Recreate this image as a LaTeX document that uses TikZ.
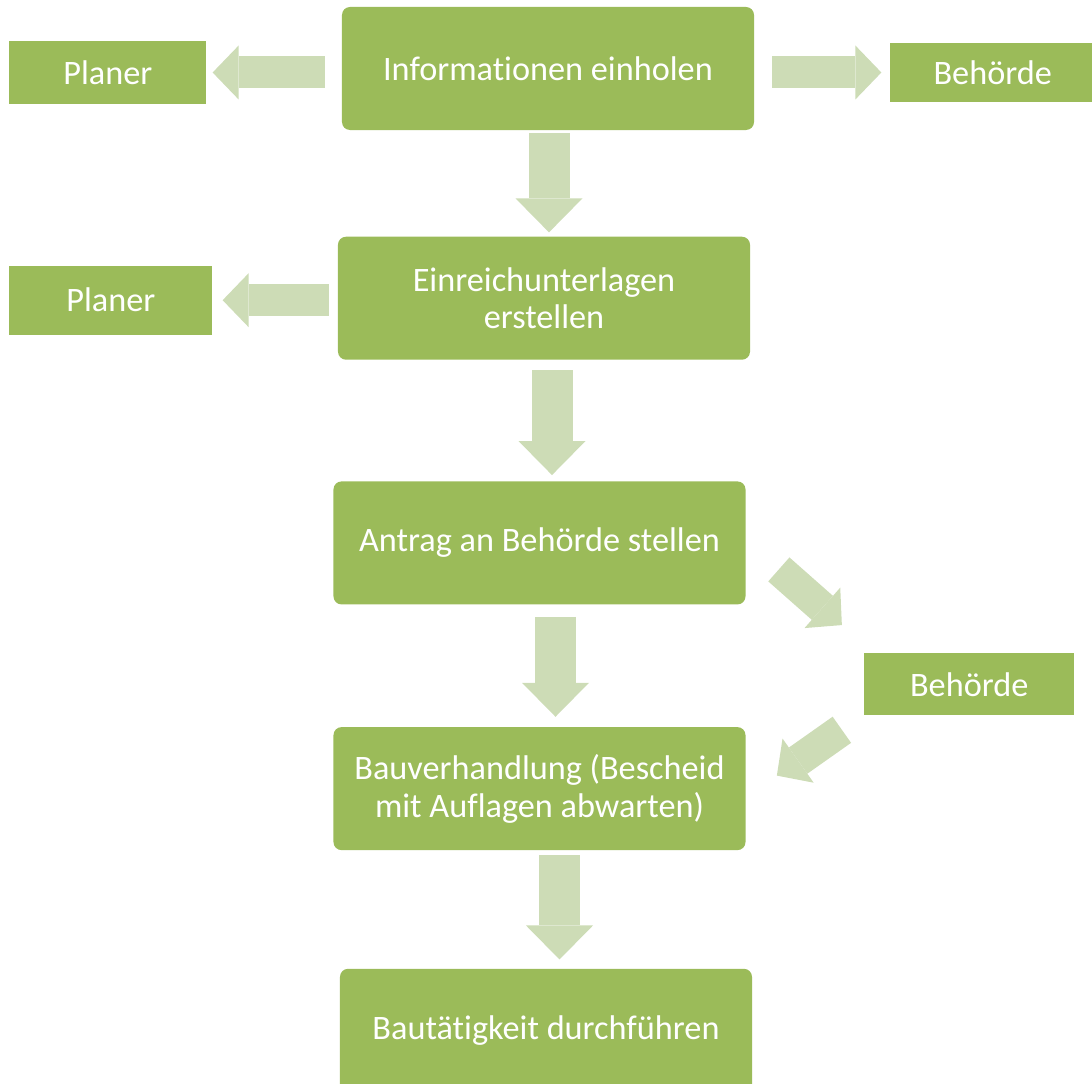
\documentclass[tikz,border=0pt]{standalone}
\usepackage{fontspec}
\setmainfont{Carlito}[Ligatures=NoCommon]
\usetikzlibrary{arrows.meta,positioning,calc}

\definecolor{boxgreen}{HTML}{9BBB59}
\definecolor{arrowgreen}{HTML}{CDDCB6}

\begin{document}
\begin{tikzpicture}[
  x=0.2mm, y=-0.2mm,
  box/.style={fill=boxgreen, rounded corners=1.6mm, minimum width=82.4mm, minimum height=24.6mm, align=center, inner sep=2pt, text=white, font=\fontsize{19.5}{21.6}\selectfont},
  sidebox/.style={fill=boxgreen, minimum height=12.6mm, align=center, inner sep=2pt, text=white, font=\fontsize{19.5}{21.6}\selectfont},
  sidearrow/.style={draw=arrowgreen, line width=6.4mm, -{Triangle[width=10.8mm, length=5.2mm, line width=0pt]}},
  downarrow/.style={draw=arrowgreen, line width=8.2mm, -{Triangle[width=13.4mm, length=6.8mm, line width=0pt]}}
]
\useasboundingbox (0,0) rectangle (1092,1084);

% Main column top to bottom
\node[box] (info) at (548,68.5) {Informationen einholen};
\node[box, below=21.2mm of info, xshift=-0.8mm] (einreich) {Einreichunterlagen\\erstellen};
\node[box, below=24.2mm of einreich, xshift=-0.9mm] (antrag) {Antrag an Behörde stellen};
\node[box, below=24.4mm of antrag] (bau) {Bauverhandlung (Bescheid\\mit Auflagen abwarten)};
\node[box, below=23.6mm of bau, xshift=1.3mm] (bautaet) {Bautätigkeit durchführen};

% Side blocks
\node[sidebox, minimum width=39.4mm, left=27mm of info, yshift=-0.8mm] (planer1) {Planer};
\node[sidebox, minimum width=41.2mm, minimum height=11.8mm, right=27mm of info, yshift=-0.8mm] (behoerde1) {Behörde};
\node[sidebox, minimum width=40.6mm, minimum height=13.8mm, left=25mm of einreich, yshift=-0.4mm] (planer2) {Planer};
\node[sidebox, minimum width=42mm, minimum height=12.4mm, right=23.6mm of antrag, yshift=-28.3mm] (behoerde2) {Behörde};

% Connections
\draw[sidearrow] ($(info.west |- planer1.east)+(-17,0)$) -- ($(planer1.east)+(6,0)$);
\draw[sidearrow] ($(info.east |- behoerde1.west)+(18,0)$) -- ($(behoerde1.west)+(-8,0)$);
\draw[sidearrow] ($(einreich.west |- planer2.east)+(-9,0)$) -- ($(planer2.east)+(10,0)$);

\draw[downarrow] ($(info.south)+(1,3)$) -- ($(info.south |- einreich.north)+(1,-4)$);
\draw[downarrow] ($(einreich.south)+(8,10)$) -- ($(einreich.south |- antrag.north)+(8,-6)$);
\draw[downarrow] ($(antrag.south)+(16,12)$) -- ($(antrag.south |- bau.north)+(16,-10)$);
\draw[downarrow] ($(bau.south)+(20,5)$) -- ($(bau.south |- bautaet.north)+(20,-9)$);

% To authority and back
\draw[sidearrow] ($(antrag.east)+(33,26.5)$) -- ($(behoerde2.north west)+(-22,-28)$);
\draw[sidearrow] ($(behoerde2.south west)+(-22,14)$) -- ($(bau.east)+(31,-13)$);

\end{tikzpicture}
\end{document}
